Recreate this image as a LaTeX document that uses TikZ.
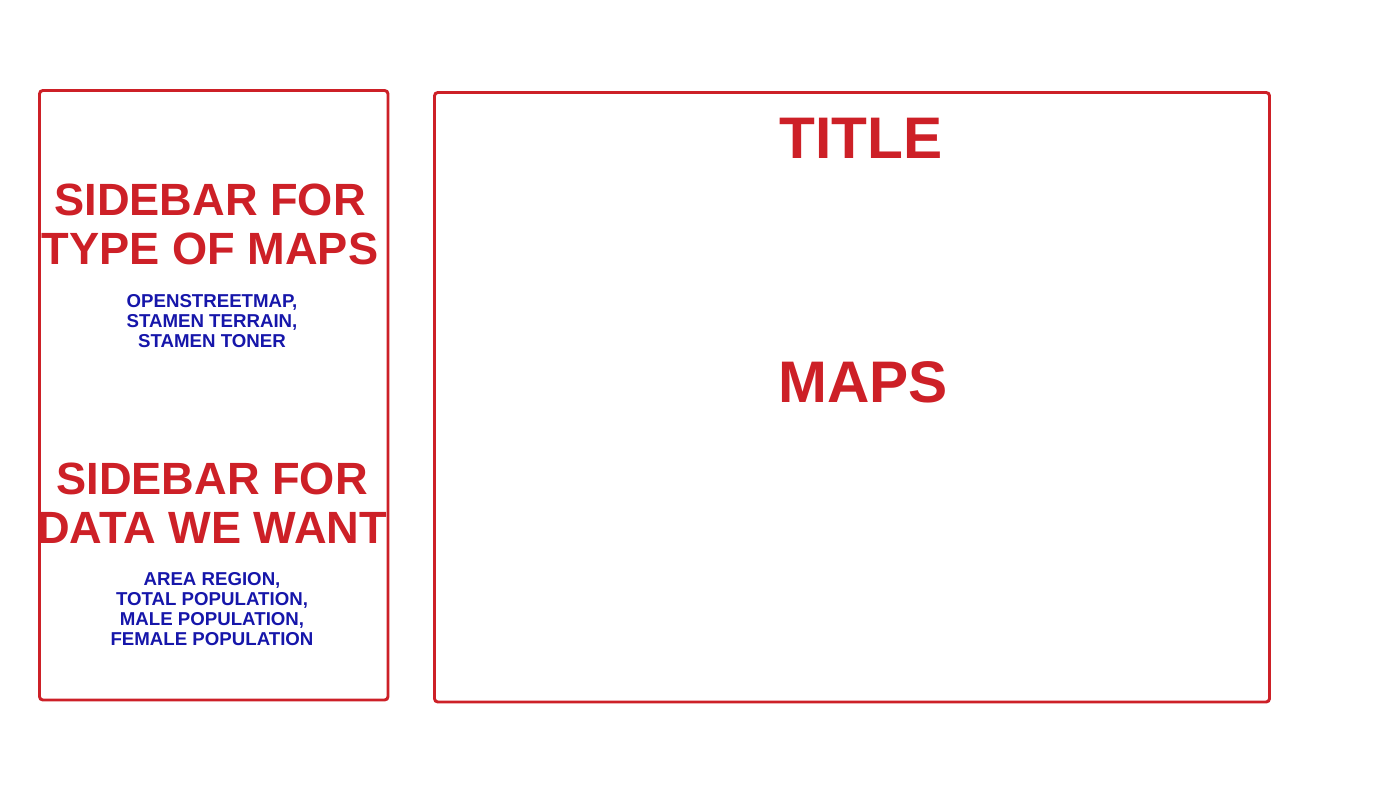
\documentclass[tikz,border=0pt]{standalone}
\usepackage{fontspec}
\setmainfont{Liberation Sans}
\usepackage{tikz}

\definecolor{boxred}{RGB}{205,32,39}
\definecolor{listblue}{RGB}{22,22,170}

\tikzset{
  panel/.style={draw=boxred, line width=2.2pt, rounded corners=2.5pt},
  bigred/.style={text=boxred, font=\bfseries\fontsize{44}{48}\selectfont, align=center, inner sep=0.75pt},
  headred/.style={text=boxred, font=\bfseries\fontsize{33.9}{36.8}\selectfont, align=center, inner sep=0.75pt},
  smallblue/.style={text=listblue, font=\bfseries\fontsize{14}{15}\selectfont, align=center, inner sep=0.75pt}
}

\begin{document}
\begin{tikzpicture}[x=0.75pt,y=0.75pt,yscale=-1,xscale=1]
\useasboundingbox (0,0) rectangle (1400,788);

%Shape: Rectangle [sidebar]
\draw [panel] (39.5,90.5) rectangle (388,700) ;
%Shape: Rectangle [map area]
\draw [panel] (434.5,92.5) rectangle (1269.5,702) ;

% Text Node
\node [bigred] (titletext) at (861,138) {TITLE};
% Text Node
\node [bigred] (mapstext) at (863,382) {MAPS};
% Text Node
\node [headred] (sidebarmaps) at (210,224) {SIDEBAR FOR\\TYPE OF MAPS};
% Text Node
\node [smallblue] (maptypes) at (212,321) {OPENSTREETMAP,\\STAMEN TERRAIN,\\STAMEN TONER};
% Text Node
\node [headred] (sidebardata) at (212,503) {SIDEBAR FOR\\DATA WE WANT};
% Text Node
\node [smallblue] (datalist) at (212,609) {AREA REGION,\\TOTAL POPULATION,\\MALE POPULATION,\\FEMALE POPULATION};

\end{tikzpicture}
\end{document}
